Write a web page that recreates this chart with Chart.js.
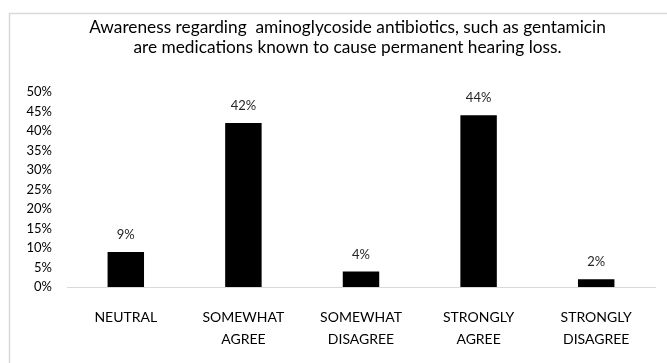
<!DOCTYPE html>
<html>
<head>
<meta charset="utf-8">
<script src="https://cdn.jsdelivr.net/npm/chart.js@4/dist/chart.umd.min.js"></script>
<style>
    html, body { margin: 0; padding: 0; background: #fff; }
    #wrap { width: 667px; height: 363px; }
</style>
</head>
<body>
<div id="wrap"><canvas id="barChart" width="667" height="363"></canvas></div>
<script>
const categories = [["NEUTRAL"], ["SOMEWHAT", "AGREE"], ["SOMEWHAT", "DISAGREE"], ["STRONGLY", "AGREE"], ["STRONGLY", "DISAGREE"]];
const awareness = [9, 42, 4, 44, 2];
const titleLines = [
    "Awareness regarding  aminoglycoside antibiotics, such as gentamicin",
    "are medications known to cause permanent hearing loss."
];

const FONT = "Lato";

// light frame round the chart, like the exported picture
const framePlugin = {
    id: "frame",
    afterLayout(chart) {
        // the original title sits a little right of the canvas centre
        const t = chart.titleBlock;
        if (t) { t.left = 28; t.right = chart.width; }
    },
    beforeDraw(chart) {
        const ctx = chart.ctx;
        ctx.save();
        ctx.fillStyle = "#ffffff";
        ctx.fillRect(0, 0, chart.width, chart.height);
        ctx.strokeStyle = "#d9d9d9";
        ctx.lineWidth = 1.5;
        ctx.strokeRect(9.5, 13.5, chart.width + 20, chart.height + 20);
        ctx.restore();
    }
};

// value labels above the bars
const valueLabels = {
    id: "valueLabels",
    afterDatasetsDraw(chart) {
        const ctx = chart.ctx;
        ctx.save();
        ctx.font = "13px " + FONT;
        ctx.fillStyle = "#262626";
        ctx.textAlign = "center";
        ctx.textBaseline = "middle";
        chart.getDatasetMeta(0).data.forEach((bar, i) => {
            ctx.fillText(awareness[i] + "%", bar.x, bar.y - 17);
        });
        ctx.restore();
    }
};

const ctx = document.getElementById("barChart").getContext("2d");
new Chart(ctx, {
    type: "bar",
    data: {
        labels: categories,
        datasets: [{
            data: awareness,
            backgroundColor: "#000000",
            categoryPercentage: 1,
            barPercentage: 0.31
        }]
    },
    options: {
        responsive: false,
        animation: false,
        layout: { padding: { left: 0, right: 12, top: 0, bottom: 0 } },
        plugins: {
            legend: { display: false },
            tooltip: { enabled: false },
            title: {
                display: true,
                text: titleLines,
                color: "#000000",
                font: { family: FONT, size: 17.3, weight: "normal", lineHeight: 1.21 },
                padding: { top: 16.5, bottom: 33.5 }
            }
        },
        scales: {
            x: {
                grid: { display: false, drawTicks: false },
                border: { color: "#d9d9d9", width: 1 },
                ticks: {
                    color: "#000000",
                    font: { family: FONT, size: 14, lineHeight: 1.55 },
                    padding: 20,
                    maxRotation: 0,
                    autoSkip: false
                },
                afterFit(scale) { scale.height = 76; }
            },
            y: {
                min: 0,
                max: 50,
                grid: { display: false, drawTicks: false },
                border: { display: false },
                ticks: {
                    stepSize: 5,
                    color: "#000000",
                    font: { family: FONT, size: 13 },
                    padding: 15,
                    callback: v => v + "%"
                },
                afterFit(scale) { scale.width = 67; }
            }
        }
    },
    plugins: [framePlugin, valueLabels]
});
</script>
</body>
</html>
